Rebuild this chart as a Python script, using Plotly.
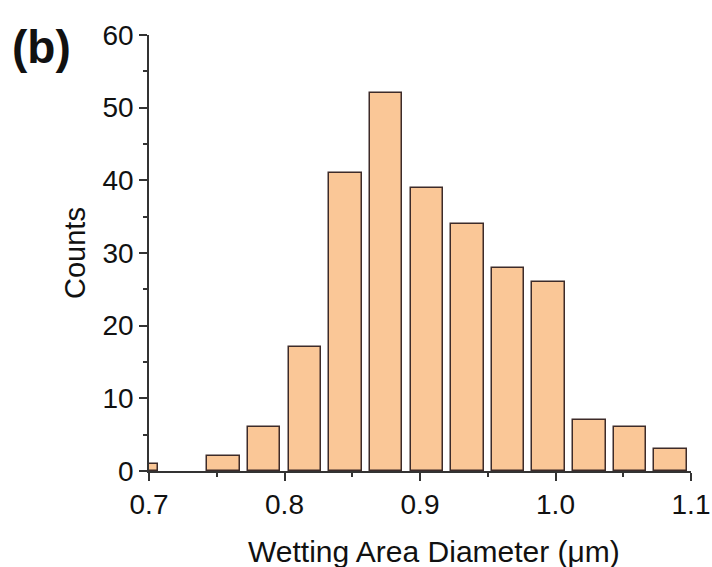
import plotly.graph_objects as go

# Histogram bin centers (µm) and counts
bin_centers = [0.695, 0.725, 0.755, 0.785, 0.815, 0.845, 0.875, 0.905,
               0.935, 0.965, 0.995, 1.025, 1.055, 1.085]
counts = [1, 0, 2, 6, 17, 41, 52, 39, 34, 28, 26, 7, 6, 3]
x_ticks = [0.7, 0.8, 0.9, 1.0, 1.1]
x_tick_labels = ["0.7", "0.8", "0.9", "1.0", "1.1"]
y_ticks = [0, 10, 20, 30, 40, 50, 60]

FONT = "Liberation Sans, Arial, sans-serif"
AXIS_COLOR = "#333333"

# empty bins drawn as no bar at all
bar_heights = [c if c > 0 else None for c in counts]

fig = go.Figure(go.Bar(
    x=bin_centers, y=bar_heights, width=0.024,
    marker=dict(color="#FAC797", line=dict(color="#3d2b29", width=1.5)),
))

fig.update_layout(
    width=712, height=567,
    margin=dict(l=149, r=21, t=35, b=96),
    plot_bgcolor="white", paper_bgcolor="white",
    showlegend=False,
    font=dict(family=FONT, size=28, color="#111111"),
    bargap=0,
)
fig.update_xaxes(
    range=[0.7, 1.1], tickvals=x_ticks, ticktext=x_tick_labels,
    showgrid=False, zeroline=False, automargin=False,
    showline=True, linecolor=AXIS_COLOR, linewidth=1.5,
    ticks="outside", ticklen=8, tickwidth=1.5, tickcolor=AXIS_COLOR,
    minor=dict(dtick=0.05, ticks="outside", ticklen=4, tickwidth=1.5, tickcolor=AXIS_COLOR),
    tickfont=dict(size=28),
)
fig.update_yaxes(
    range=[0, 60], tickvals=y_ticks,
    showgrid=False, zeroline=False, automargin=False,
    showline=True, linecolor=AXIS_COLOR, linewidth=1.5,
    ticks="outside", ticklen=8, tickwidth=1.5, tickcolor=AXIS_COLOR,
    minor=dict(dtick=5, ticks="outside", ticklen=4, tickwidth=1.5, tickcolor=AXIS_COLOR),
    tickfont=dict(size=28),
    title=dict(text="Counts", font=dict(size=29), standoff=8),
)
# x-axis title
fig.add_annotation(
    text="Wetting Area Diameter (μm)", xref="paper", yref="paper",
    x=0.526, y=0, xanchor="center", yanchor="top", showarrow=False,
    font=dict(size=30, family=FONT, color="#111111"), yshift=-62,
)
fig.add_annotation(
    text="<b>(b)</b>", xref="paper", yref="paper", x=0, y=1,
    xanchor="left", yanchor="top", showarrow=False,
    font=dict(size=46, family=FONT, color="#111111"),
    xshift=-139, yshift=16,
)
fig.write_html("out.html")
